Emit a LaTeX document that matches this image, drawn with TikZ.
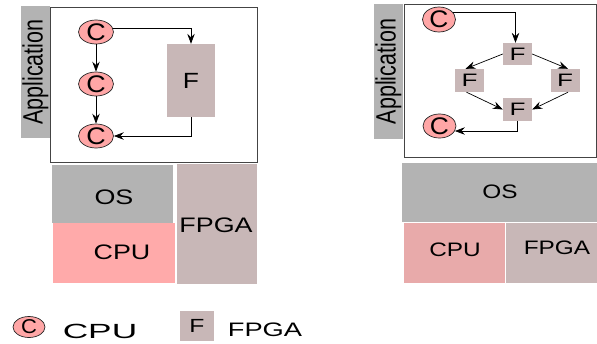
\documentclass[tikz,border=0pt]{standalone}
\usepackage{fontspec}
\setmainfont{Liberation Sans}
\usetikzlibrary{arrows.meta,shapes.geometric}
\definecolor{cnode}{HTML}{FFA6A6}
\definecolor{cpuL}{HTML}{FFAAAA}
\definecolor{cpuR}{HTML}{E8AAAA}
\definecolor{fpgac}{HTML}{C8B7B7}
\definecolor{grayc}{HTML}{B3B3B3}
\definecolor{edgec}{HTML}{444444}
\newcommand{\hstr}[2]{\scalebox{#1}[1]{#2}}
\newcommand{\fsz}[1]{\fontsize{#1}{#1}\selectfont}
\tikzset{
  cnodest/.style={ellipse, draw=black!85, line width=0.7pt, fill=cnode, inner sep=0pt},
  fnodest/.style={rectangle, fill=fpgac, inner sep=0pt},
  blk/.style={rectangle, inner sep=0pt},
  appbox/.style={rectangle, draw=edgec, line width=0.9pt, inner sep=0pt},
  lbl/.style={inner sep=0pt, text=black},
  arr/.style={draw=black, line width=0.7pt, -{Stealth[length=10pt,width=7.5pt,inset=3.5pt]}},
  ln/.style={draw=black, line width=0.7pt}
}
\begin{document}
\begin{tikzpicture}[x=1pt,y=-1pt]
\useasboundingbox (0,0) rectangle (597,343);
% ---------- left panel ----------
\node[appbox, minimum width=207pt, minimum height=155pt] (boxL) at (153.5,84.5) {};
\node[blk, fill=grayc, minimum width=29pt, minimum height=132pt] (appL) at (35.5,72) {};
\node[lbl, rotate=90, font=\fsz{21.5}] (appLt) at (appL) {\scalebox{1}[1.3]{Application}};
\node[cnodest, minimum width=35pt, minimum height=24pt, font=\fsz{24}] (c1) at (96,32) {\hstr{1.12}{C}};
\node[cnodest, minimum width=35pt, minimum height=24pt, font=\fsz{24}] (c2) at (96,84) {\hstr{1.12}{C}};
\node[cnodest, minimum width=35pt, minimum height=24pt, font=\fsz{24}] (c3) at (96,136) {\hstr{1.12}{C}};
\node[fnodest, minimum width=48pt, minimum height=73pt, font=\fsz{22}] (f1) at (191,80.5) {\hstr{1.2}{F}};
\draw[arr] (c1) -- (c2);
\draw[arr] (c2) -- (c3);
\draw[arr] (c1.13) -| (f1.north);
\draw[arr] (f1.south) |- (c3.east);
% bottom left
\node[blk, fill=grayc, minimum width=121pt, minimum height=58pt] (osL) at (112.5,194) {};
\node[lbl, font=\fsz{21}] (osLt) at (114,197) {\hstr{1.28}{OS}};
\node[blk, fill=cpuL, minimum width=122pt, minimum height=60pt] (cpuLb) at (114,253) {};
\node[lbl, font=\fsz{21}] (cpuLt) at (122,252) {\hstr{1.28}{CPU}};
\node[blk, fill=fpgac, minimum width=80pt, minimum height=120pt] (fpgaL) at (217,224) {};
\node[lbl, font=\fsz{21}] (fpgaLt) at (216,225) {\hstr{1.28}{FPGA}};
% ---------- right panel ----------
\node[appbox, minimum width=192pt, minimum height=153pt] (boxR) at (500,80.5) {};
\node[blk, fill=grayc, minimum width=29pt, minimum height=135pt] (appR) at (388.5,71.5) {};
\node[lbl, rotate=90, font=\fsz{21.5}] (appRt) at (appR) {\scalebox{1}[1.3]{Application}};
\node[cnodest, minimum width=33pt, minimum height=25pt, font=\fsz{24}] (rc1) at (439,19.5) {\hstr{1.1}{C}};
\node[cnodest, minimum width=33pt, minimum height=23pt, font=\fsz{24}] (rc2) at (439.5,126) {\hstr{1.1}{C}};
\node[fnodest, minimum width=29pt, minimum height=22pt, font=\fsz{18}] (rf1) at (517.5,54) {\hstr{1.45}{F}};
\node[fnodest, minimum width=29pt, minimum height=23pt, font=\fsz{18}] (rf2) at (469.5,80.5) {\hstr{1.45}{F}};
\node[fnodest, minimum width=29pt, minimum height=23pt, font=\fsz{18}] (rf3) at (565,80.5) {\hstr{1.45}{F}};
\node[fnodest, minimum width=29pt, minimum height=23pt, font=\fsz{18}] (rf4) at (517.5,109.5) {\hstr{1.45}{F}};
\draw[arr] (rc1.25) -| ([xshift=-2pt]rf1.north);
\draw[arr] (rf1.west) -- ([xshift=-4pt]rf2.north);
\draw[arr] (rf1.east) -- ([xshift=3pt]rf3.north);
\draw[arr] ([xshift=-3pt]rf2.south) -- (rf4.west);
\draw[arr] ([xshift=3pt]rf3.south) -- (rf4.east);
\draw[arr] (rf4.south) |- (rc2.-18);
% bottom right
\node[blk, fill=grayc, minimum width=195pt, minimum height=59pt] (osR) at (499.5,192.5) {};
\node[lbl, font=\fsz{19.5}] (osRt) at (500,192) {\hstr{1.25}{OS}};
\node[blk, fill=cpuR, minimum width=101pt, minimum height=60pt] (cpuRb) at (454.5,253) {};
\node[lbl, font=\fsz{19.5}] (cpuRt) at (455,250) {\hstr{1.25}{CPU}};
\node[blk, fill=fpgac, minimum width=91pt, minimum height=60pt] (fpgaR) at (551.5,253) {};
\node[lbl, font=\fsz{19.5}] (fpgaRt) at (557,248) {\hstr{1.25}{FPGA}};
% ---------- legend ----------
\node[cnodest, minimum width=32pt, minimum height=21pt, font=\fsz{20}] (lc) at (29,327) {\hstr{1.1}{C}};
\node[lbl, font=\fsz{20.5}] (lct) at (100,331) {\hstr{1.72}{CPU}};
\node[fnodest, minimum width=34pt, minimum height=30pt, font=\fsz{19}] (lf) at (197,326) {\hstr{1.3}{F}};
\node[lbl, font=\fsz{19.5}] (lft) at (265,330) {\hstr{1.4}{FPGA}};
\end{tikzpicture}
\end{document}
